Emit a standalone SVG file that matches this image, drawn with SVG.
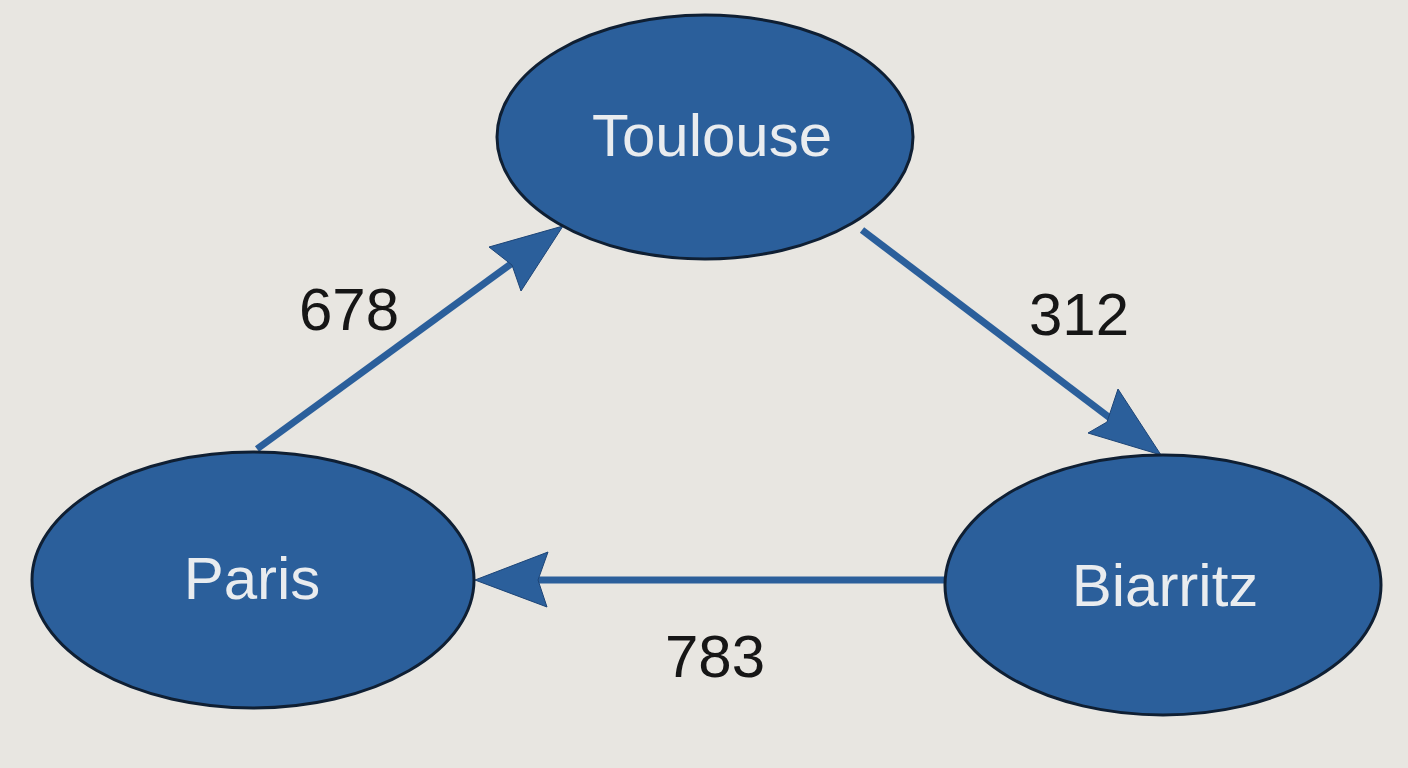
<svg xmlns="http://www.w3.org/2000/svg" width="1408" height="768" viewBox="0 0 1408 768">
<style>
.node{fill:#2b5f9b;stroke:#0f1f33;stroke-width:3}
.nlabel{font-family:"Liberation Sans",Arial,sans-serif;font-size:60px;fill:#e9ecef;text-anchor:middle}
.elabel{font-family:"Liberation Sans",Arial,sans-serif;font-size:60px;fill:#161616;text-anchor:middle}
.edge{stroke:#2b5f9b;stroke-width:7;fill:none}
.head{fill:#2b5f9b;stroke:#1d4577;stroke-width:1}
</style>
<rect width="1408" height="768" fill="#e8e6e1"/>
<g id="connectors">
<line class="edge" x1="257" y1="449" x2="515" y2="261"/>
<polygon class="head" points="563,226 489,247 512,265 521,291"/>
<line class="edge" x1="862" y1="230" x2="1110" y2="418"/>
<polygon class="head" points="1161,455 1118,389 1107,422 1088,433"/>
<line class="edge" x1="945" y1="580" x2="535" y2="580"/>
<polygon class="head" points="475,580 548,552 538,580 547,607"/>
<text class="elabel" x="349" y="330">678</text>
<text class="elabel" x="1079" y="335">312</text>
<text class="elabel" x="715" y="677">783</text>
</g>
<g id="toulouse">
<ellipse class="node" cx="705" cy="137" rx="208" ry="122"/>
<text class="nlabel" x="712" y="156">Toulouse</text>
</g>
<g id="paris">
<ellipse class="node" cx="253" cy="580" rx="221" ry="128"/>
<text class="nlabel" x="252" y="599">Paris</text>
</g>
<g id="biarritz">
<ellipse class="node" cx="1163" cy="585" rx="218" ry="130"/>
<text class="nlabel" x="1165" y="606">Biarritz</text>
</g>
</svg>
